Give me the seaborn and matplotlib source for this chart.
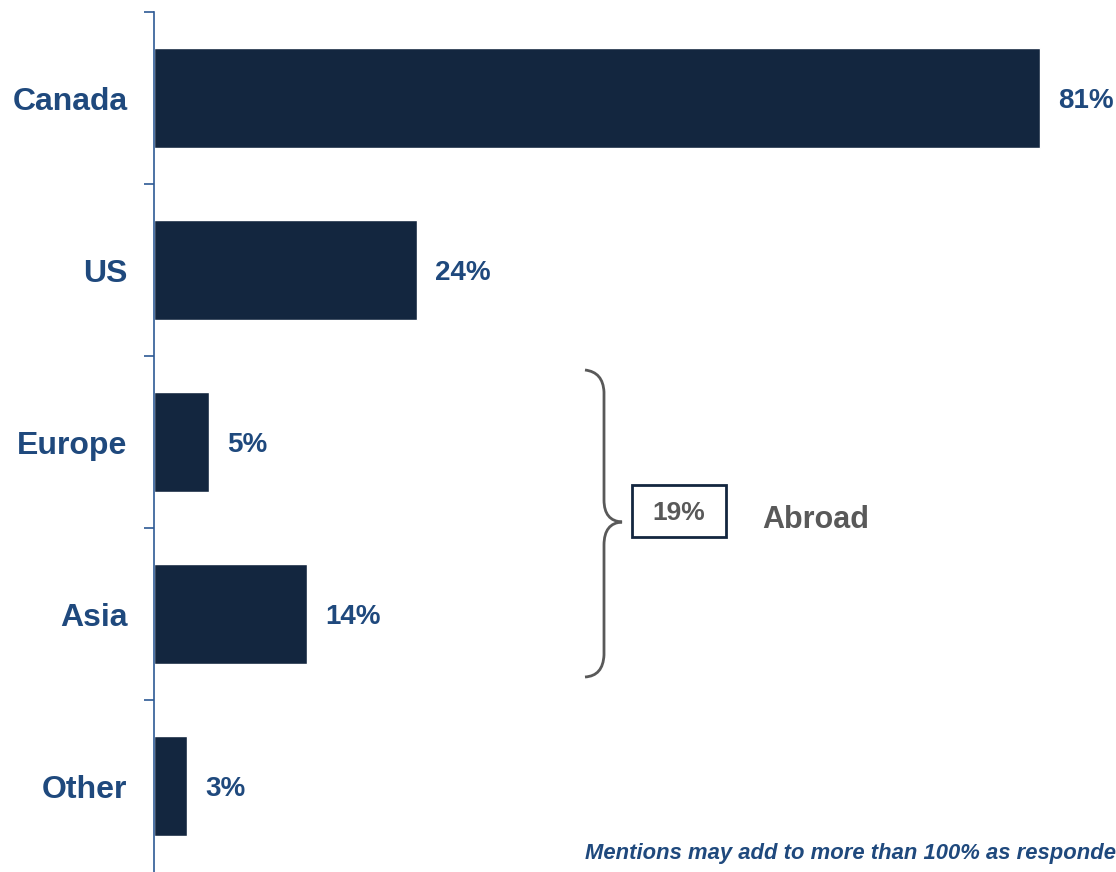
import numpy as np
import pandas as pd
import matplotlib.pyplot as plt
import seaborn as sns
from matplotlib.path import Path
from matplotlib.patches import PathPatch, Rectangle

# -----------------------------
# Data
# -----------------------------
regions = ['Canada', 'US', 'Europe', 'Asia', 'Other']
shares = [81, 24, 5, 14, 3]
abroad_share = 19
note = 'Mentions may add to more than 100% as respondents could select more than one location'

BAR = '#13263F'
BLUE = '#1F497D'
SPINE = '#2E5A95'
GREY = '#595959'

sns.set_theme(style='white')
plt.rcParams['font.family'] = ['Liberation Sans', 'DejaVu Sans']

df = pd.DataFrame({'region': regions, 'share': shares})

W, H = 1116, 872
fig = plt.figure(figsize=(W / 100, H / 100), dpi=100)
ax = fig.add_axes([154 / W, 0, 1 - 154 / W, (H - 12) / H])

sns.barplot(data=df, x='share', y='region', order=regions, color=BAR,
            width=0.58, saturation=1, ax=ax)

ax.set_xlim(0, (W - 154) / 10.94)
ax.set_ylim(len(regions) - 0.5, -0.5)
ax.set_xlabel('')
ax.set_ylabel('')
ax.set_xticks([])

# category labels, ticks at the boundaries
ax.set_yticks(range(len(regions)))
ax.set_yticklabels(regions, fontsize=23, fontweight='bold', color=BLUE)
ax.tick_params(axis='y', which='major', length=0, pad=19)
ax.set_yticks(np.arange(-0.5, len(regions) - 1, 1), minor=True)
ax.tick_params(axis='y', which='minor', length=7, width=1.2, color=SPINE, left=True)

for s in ['top', 'right', 'bottom']:
    ax.spines[s].set_visible(False)
ax.spines['left'].set_color(SPINE)
ax.spines['left'].set_linewidth(1.2)

# value labels
for i, v in enumerate(shares):
    ax.annotate(f'{v}%', (v, i), xytext=(13, -2), textcoords='offset points',
                ha='left', va='center', fontsize=20, fontweight='bold', color=BLUE)

# -----------------------------
# Abroad brace and box (figure pixel coords)
# -----------------------------
def px(x, y):
    return (x / W, 1 - y / H)

verts = [px(585, 370), px(603, 372), px(604, 392),
         px(604, 500),
         px(604, 521), px(622, 522),
         px(604, 523), px(604, 545),
         px(604, 655),
         px(603, 676), px(585, 677)]
codes = [Path.MOVETO, Path.CURVE3, Path.CURVE3,
         Path.LINETO,
         Path.CURVE3, Path.CURVE3,
         Path.CURVE3, Path.CURVE3,
         Path.LINETO,
         Path.CURVE3, Path.CURVE3]
brace = PathPatch(Path(verts, codes), transform=fig.transFigure, fill=False,
                  edgecolor=GREY, linewidth=2)
fig.patches.append(brace)

bx0, by0 = px(632, 537)
bx1, by1 = px(726, 485)
box = Rectangle((bx0, by0), bx1 - bx0, by1 - by0, transform=fig.transFigure,
                fill=False, edgecolor=BAR, linewidth=2)
fig.patches.append(box)
fig.text(*px(679, 513), f'{abroad_share}%', ha='center', va='center',
         fontsize=19, fontweight='bold', color=GREY)
fig.text(*px(762, 520), 'Abroad', ha='left', va='center',
         fontsize=22, fontweight='bold', color=GREY)

# footnote
fig.text(*px(585, 853), note, ha='left', va='center', fontsize=15.8,
         fontweight='bold', fontstyle='italic', color=BLUE)

fig.savefig('out.png', dpi=100)
